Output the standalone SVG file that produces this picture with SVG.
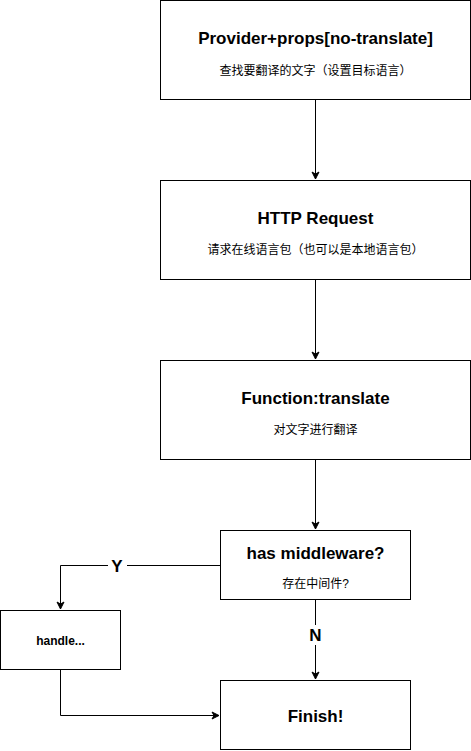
<svg xmlns="http://www.w3.org/2000/svg" width="471" height="751" viewBox="0 0 471 751">
<style>
.box{fill:#fff;stroke:#000;stroke-width:1}
.t{font-family:"Liberation Sans",Arial,sans-serif;font-weight:bold;font-size:17px;text-anchor:middle;fill:#000}
.s{font-family:"Liberation Sans","Noto Sans CJK SC",sans-serif;font-size:12px;text-anchor:middle;fill:#000}
.e{fill:none;stroke:#000;stroke-width:1}
.lb{font-family:"Liberation Sans",Arial,sans-serif;font-weight:bold;font-size:17px;text-anchor:middle;fill:#000}
</style>
<defs>
<marker id="a" markerWidth="10" markerHeight="10" refX="8" refY="5" orient="auto" markerUnits="userSpaceOnUse">
<path d="M1,1.5 L8,5 L1,8.5 L3,5 Z" fill="#000" stroke="#000" stroke-width="1"/>
</marker>
</defs>
<rect width="471" height="751" fill="#fff"/>
<g id="connectors">
<path class="e" d="M315.5,100 V179" marker-end="url(#a)"/>
<path class="e" d="M315.5,280 V359" marker-end="url(#a)"/>
<path class="e" d="M315.5,460 V529" marker-end="url(#a)"/>
<path class="e" d="M220,565.5 H60.5 V609" marker-end="url(#a)"/>
<path class="e" d="M315.5,600 V679" marker-end="url(#a)"/>
<path class="e" d="M60.5,670 V715.5 H219" marker-end="url(#a)"/>
<rect x="108" y="556" width="19" height="19" fill="#fff"/>
<text class="lb" x="117" y="572">Y</text>
<rect x="306" y="625" width="19" height="20" fill="#fff"/>
<text class="lb" x="315.5" y="641">N</text>
</g>
<g id="n1">
<rect class="box" x="160.5" y="0.5" width="310" height="99"/>
<text class="t" x="315.5" y="44">Provider+props[no-translate]</text>
<text class="s" x="315.5" y="75">查找要翻译的文字（设置目标语言）</text>
</g>
<g id="n2">
<rect class="box" x="160.5" y="180.5" width="310" height="99"/>
<text class="t" x="315.5" y="224">HTTP Request</text>
<text class="s" x="315.5" y="254">请求在线语言包（也可以是本地语言包）</text>
</g>
<g id="n3">
<rect class="box" x="160.5" y="360.5" width="310" height="99"/>
<text class="t" x="315.5" y="404">Function:translate</text>
<text class="s" x="315.5" y="434">对文字进行翻译</text>
</g>
<g id="n4">
<rect class="box" x="220.5" y="530.5" width="190" height="69"/>
<text class="t" x="315.5" y="559">has middleware?</text>
<text class="s" x="315.5" y="588">存在中间件?</text>
</g>
<g id="n5">
<rect class="box" x="0.5" y="610.5" width="120" height="59"/>
<text class="t" x="60.5" y="645" style="font-size:12px">handle...</text>
</g>
<g id="n6">
<rect class="box" x="220.5" y="680.5" width="190" height="69"/>
<text class="t" x="315.5" y="722">Finish!</text>
</g>
</svg>
